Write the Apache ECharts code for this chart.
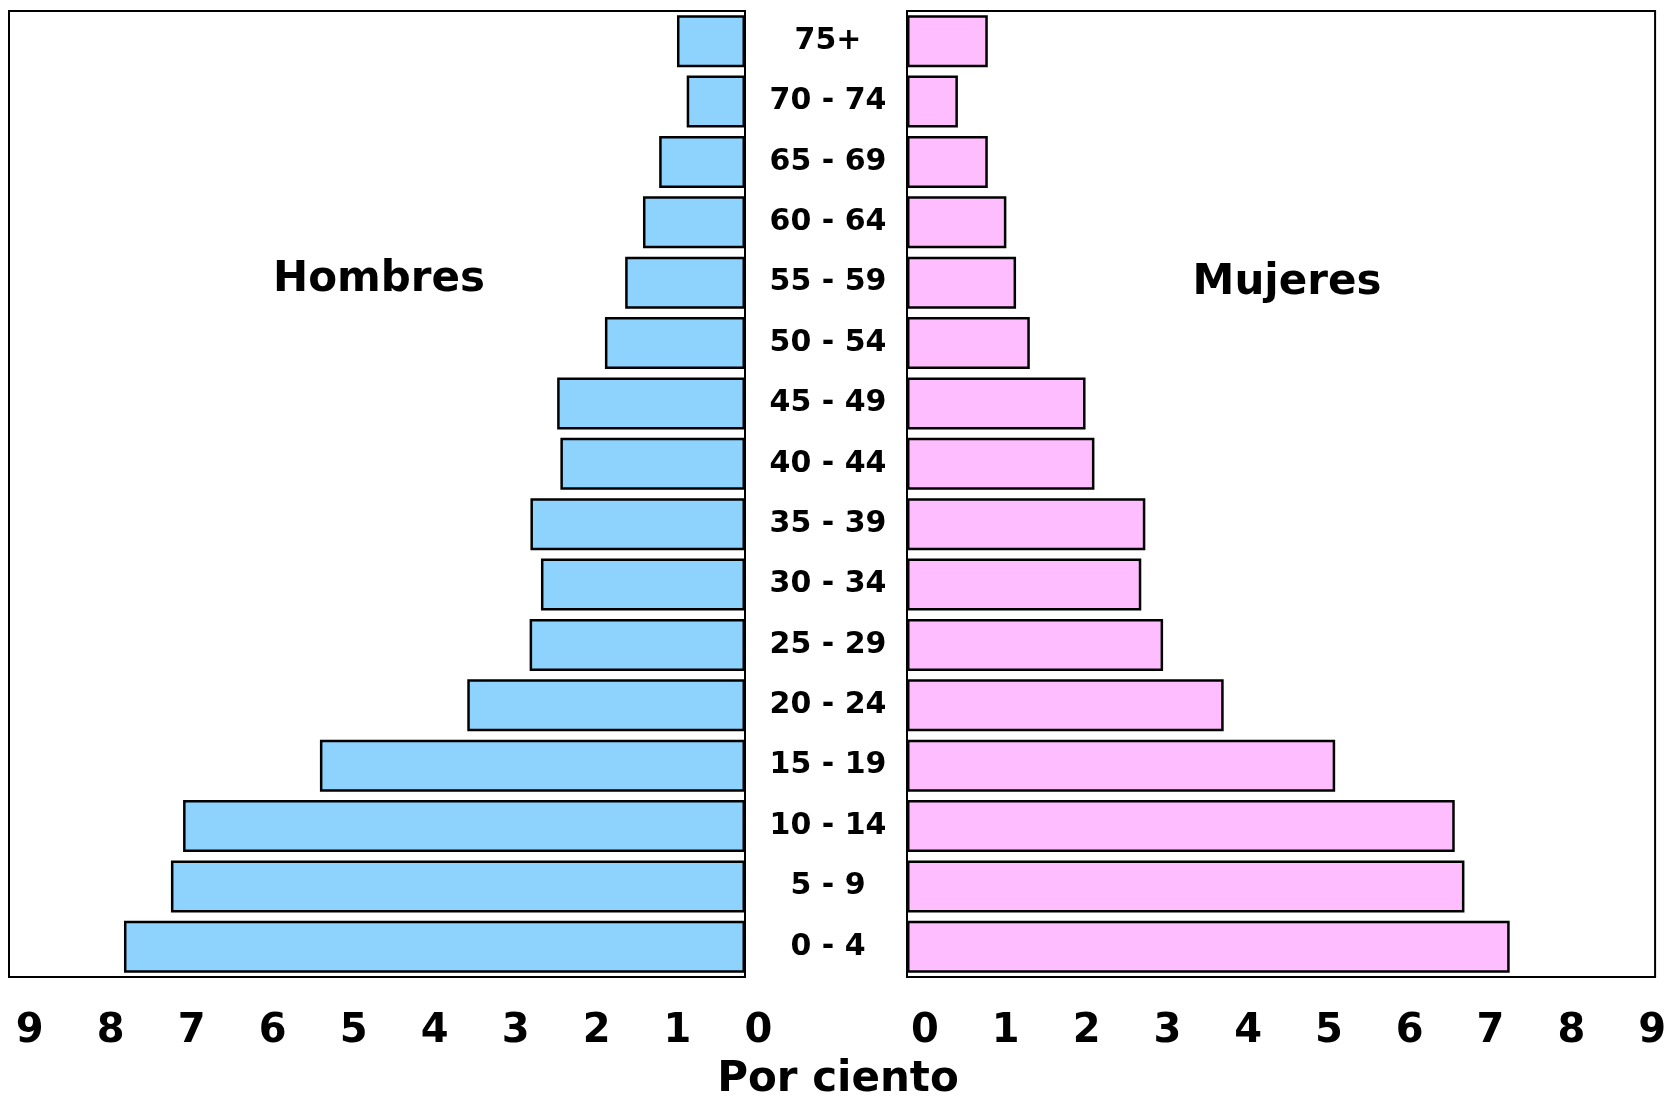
<!DOCTYPE html>
<html>
<head>
<meta charset="utf-8">
<script src="https://cdn.jsdelivr.net/npm/echarts@6/dist/echarts.min.js"></script>
<style>
html,body{margin:0;padding:0;background:#fff;}
#chart{width:1669px;height:1096px;}
</style>
</head>
<body>
<div id="chart"></div>
<script>
var categories = ['0 - 4','5 - 9','10 - 14','15 - 19','20 - 24','25 - 29','30 - 34','35 - 39','40 - 44','45 - 49','50 - 54','55 - 59','60 - 64','65 - 69','70 - 74','75+'];
var hombres = [7.67, 7.09, 6.94, 5.25, 3.43, 2.66, 2.52, 2.65, 2.28, 2.32, 1.73, 1.48, 1.26, 1.06, 0.72, 0.84];
var mujeres = [7.46, 6.90, 6.78, 5.30, 3.92, 3.17, 2.90, 2.95, 2.32, 2.21, 1.52, 1.35, 1.23, 1.00, 0.63, 1.00];
var tickLabels = ['0','1','2','3','4','5','6','7','8','9'];

var FONT = 'DejaVu Sans';
var chart = echarts.init(document.getElementById('chart'), null, {renderer:'canvas'});

function fmt(v){
  var i = Math.round(v);
  return Math.abs(v - i) < 1e-6 && i >= 0 && i < tickLabels.length ? tickLabels[i] : '';
}

var option = {
  animation: false,
  backgroundColor: '#ffffff',
  grid: [
    {left: 9, top: 11, width: 736, height: 966, show: true, borderColor: '#000', borderWidth: 2, backgroundColor: 'transparent', containLabel: false},
    {left: 907, top: 11, width: 750, height: 966, show: true, borderColor: '#000', borderWidth: 2, backgroundColor: 'transparent', containLabel: false}
  ],
  xAxis: [
    {gridIndex: 0, type: 'value', inverse: true, min: 0, max: 9.09, interval: 1,
     axisLine: {show: false}, axisTick: {show: false}, splitLine: {show: false},
     axisLabel: {formatter: fmt, fontFamily: FONT, fontWeight: 'bold', fontSize: 40, color: '#000',
                 margin: 55, verticalAlign: 'middle', align: 'center', padding: [0,0,0,27]}},
    {gridIndex: 1, type: 'value', min: 0, max: 9.26, interval: 1,
     axisLine: {show: false}, axisTick: {show: false}, splitLine: {show: false},
     axisLabel: {formatter: fmt, fontFamily: FONT, fontWeight: 'bold', fontSize: 40, color: '#000',
                 margin: 55, verticalAlign: 'middle', align: 'center', padding: [0,0,0,36]}}
  ],
  yAxis: [
    {gridIndex: 0, type: 'category', data: categories, position: 'right',
     axisLine: {show: false}, axisTick: {show: false}, splitLine: {show: false},
     axisLabel: {fontFamily: FONT, fontWeight: 'bold', fontSize: 30, color: '#000', margin: 83, align: 'center', verticalAlign: 'middle'}},
    {gridIndex: 1, type: 'category', data: categories,
     axisLine: {show: false}, axisTick: {show: false}, splitLine: {show: false},
     axisLabel: {show: false}}
  ],
  series: [
    {type: 'bar', name: 'Hombres', xAxisIndex: 0, yAxisIndex: 0, data: hombres, barCategoryGap: '14%',
     itemStyle: {color: '#8ED3FE', borderColor: '#000', borderWidth: 2.5}},
    {type: 'bar', name: 'Mujeres', xAxisIndex: 1, yAxisIndex: 1, data: mujeres, barCategoryGap: '14%',
     itemStyle: {color: '#FEBDFE', borderColor: '#000', borderWidth: 2.5}}
  ],
  graphic: [
    {type: 'text', x: 379, y: 280, style: {text: 'Hombres', font: 'bold 42px "DejaVu Sans"', fill: '#000', align: 'center', verticalAlign: 'middle'}, z: 10},
    {type: 'text', x: 1287, y: 283, style: {text: 'Mujeres', font: 'bold 42px "DejaVu Sans"', fill: '#000', align: 'center', verticalAlign: 'middle'}, z: 10},
    {type: 'text', x: 838, y: 1080, style: {text: 'Por ciento', font: 'bold 42px "DejaVu Sans"', fill: '#000', align: 'center', verticalAlign: 'middle'}, z: 10}
  ]
};
chart.setOption(option);
</script>
</body>
</html>
